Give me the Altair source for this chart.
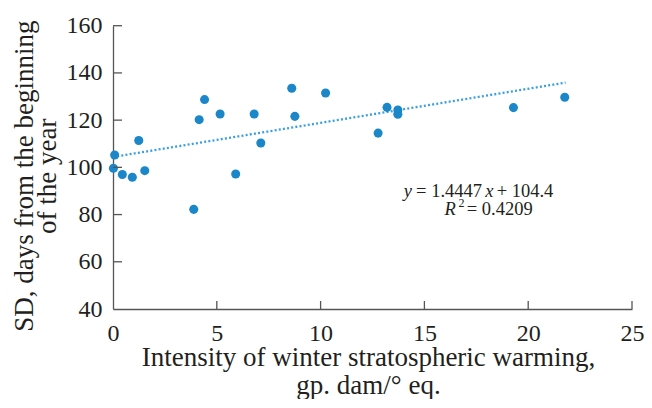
import altair as alt
import pandas as pd

# ---- data ----
intensity = [0.02, 0.08, 0.45, 0.93, 1.24, 1.53, 3.89, 4.15, 4.41, 5.16, 5.91,
             6.80, 7.12, 8.61, 8.76, 10.24, 12.77, 13.20, 13.72, 13.72, 19.29, 21.76]
sd_days = [99.6, 105.2, 97.0, 95.8, 111.4, 98.6, 82.2, 120.2, 128.7, 122.6, 97.2,
           122.6, 110.3, 133.5, 121.6, 131.5, 114.5, 125.4, 124.3, 122.5, 125.3, 129.7]

slope = 1.4447
intercept = 104.4
trend_x = [0.0, 21.8]
trend_y = [slope * v + intercept for v in trend_x]

x_ticks = [5, 10, 15, 20, 25]
y_ticks = [60, 80, 100, 120, 140, 160]

# equation annotation pieces (text, x, y)
eq_normal_text = ["= 1.4447", "+ 104.4", "= 0.4209"]
eq_normal_x = [14.60, 18.48, 17.04]
eq_normal_y = [87.56, 87.56, 79.81]
eq_italic_text = ["y", "x", "R"]
eq_italic_x = [14.00, 17.93, 15.97]
eq_italic_y = [87.56, 87.56, 79.81]
eq_sup_text = ["2"]
eq_sup_x = [16.64]
eq_sup_y = [83.07]

W, H = 519, 283.3
FONT = "Liberation Serif"
TXT = "#231f20"
AX = "#555555"

xscale = alt.Scale(domain=[0, 25], nice=False, zero=False)
yscale = alt.Scale(domain=[40, 160], nice=False, zero=False)

pts = pd.DataFrame({"x": intensity, "y": sd_days})
trend = pd.DataFrame({"x": trend_x, "y": trend_y})
xt = pd.DataFrame({"v": x_ticks})
yt = pd.DataFrame({"v": y_ticks})
eqn = pd.DataFrame({"x": eq_normal_x, "y": eq_normal_y, "t": eq_normal_text})
eqi = pd.DataFrame({"x": eq_italic_x, "y": eq_italic_y, "t": eq_italic_text})
eqs = pd.DataFrame({"x": eq_sup_x, "y": eq_sup_y, "t": eq_sup_text})

x_axis = alt.Axis(
    values=[0, 5, 10, 15, 20, 25], grid=False, ticks=False, tickSize=0,
    domainColor=AX, domainWidth=1.3,
    labelFont=FONT, labelFontSize=24, labelColor=TXT,
    labelBaseline="alphabetic", labelPadding=31, labelFlush=False,
    title=["Intensity of winter stratospheric warming,", "gp. dam/° eq."],
    titleFont=FONT, titleFontSize=27, titleFontWeight="normal", titleColor=TXT,
    titleAlign="center", titleBaseline="alphabetic", titleLineHeight=28,
    titleX=255, titleY=56.7,
)
y_axis = alt.Axis(
    values=[40, 60, 80, 100, 120, 140, 160], grid=False, ticks=False, tickSize=0,
    domainColor=AX, domainWidth=1.3,
    labelFont=FONT, labelFontSize=24, labelColor=TXT,
    labelBaseline="middle", labelPadding=11, labelFlush=False,
    title=["SD, days from the beginning", "of the year"],
    titleFont=FONT, titleFontSize=27, titleFontWeight="normal", titleColor=TXT,
    titleAngle=270, titleAlign="center", titleBaseline="alphabetic", titleLineHeight=23,
    titleX=-80.5, titleY=150,
)

points = alt.Chart(pts).mark_circle(size=82, opacity=1, color="#1b87c9").encode(
    x=alt.X("x:Q", scale=xscale, axis=x_axis),
    y=alt.Y("y:Q", scale=yscale, axis=y_axis),
)

line = alt.Chart(trend).mark_line(color="#3a9fe0", strokeWidth=2.3, strokeDash=[2, 2.2]).encode(
    x=alt.X("x:Q", scale=xscale),
    y=alt.Y("y:Q", scale=yscale),
)

xtick_layer = alt.Chart(xt).mark_rule(color=AX, strokeWidth=1.3).encode(
    x=alt.X("v:Q", scale=xscale),
    y=alt.value(H), y2=alt.value(H - 8),
)
ytick_layer = alt.Chart(yt).mark_rule(color=AX, strokeWidth=1.3).encode(
    y=alt.Y("v:Q", scale=yscale),
    x=alt.value(0), x2=alt.value(9),
)

eq_n = alt.Chart(eqn).mark_text(font=FONT, fontSize=18.5, color=TXT, align="left", baseline="alphabetic").encode(
    x=alt.X("x:Q", scale=xscale), y=alt.Y("y:Q", scale=yscale), text="t:N")
eq_i = alt.Chart(eqi).mark_text(font=FONT, fontSize=18.5, fontStyle="italic", color=TXT, align="left", baseline="alphabetic").encode(
    x=alt.X("x:Q", scale=xscale), y=alt.Y("y:Q", scale=yscale), text="t:N")
eq_s = alt.Chart(eqs).mark_text(font=FONT, fontSize=12, color=TXT, align="left", baseline="alphabetic").encode(
    x=alt.X("x:Q", scale=xscale), y=alt.Y("y:Q", scale=yscale), text="t:N")

chart = alt.layer(line, points, xtick_layer, ytick_layer, eq_n, eq_i, eq_s).properties(
    width=W, height=H,
    autosize=alt.AutoSizeParams(type="none"),
    padding={"left": 105, "top": 17.7, "right": 12, "bottom": 90},
    background="white",
).configure_view(stroke=None)

chart.save("out.html", embed_options={"renderer": "svg", "actions": False})
